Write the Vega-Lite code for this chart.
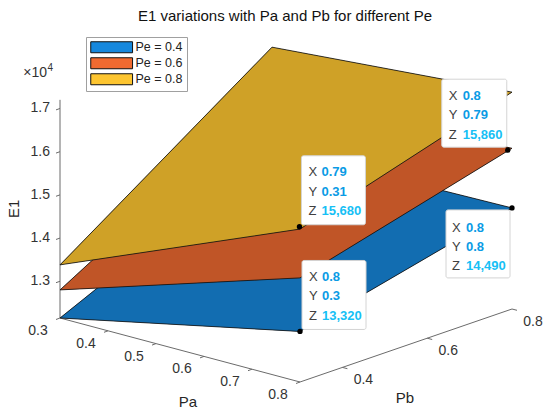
{
  "$schema": "https://vega.github.io/schema/vega-lite/v6.json",
  "width": 550,
  "height": 415,
  "padding": 0,
  "autosize": {"type": "none"},
  "background": "white",
  "config": {"view": {"stroke": null}, "font": "Liberation Sans"},
  "title": {"text": "E1 variations with Pa and Pb for different Pe", "anchor": "middle", "frame": "group", "baseline": "top", "offset": -7, "dx": 10, "dy": 17, "fontSize": 15, "fontWeight": "normal", "color": "#111111", "font": "Liberation Sans"},
  "data": {"values": [
    {"kind": "surf", "s": "Pe = 0.4", "k": 1, "Pa": 0.3, "Pb": 0.3, "E1": 12150},
    {"kind": "surf", "s": "Pe = 0.4", "k": 2, "Pa": 0.8, "Pb": 0.3, "E1": 13320},
    {"kind": "surf", "s": "Pe = 0.4", "k": 3, "Pa": 0.8, "Pb": 0.8, "E1": 14490},
    {"kind": "surf", "s": "Pe = 0.4", "k": 4, "Pa": 0.3, "Pb": 0.8, "E1": 14400},
    {"kind": "surf", "s": "Pe = 0.6", "k": 1, "Pa": 0.3, "Pb": 0.3, "E1": 12800},
    {"kind": "surf", "s": "Pe = 0.6", "k": 2, "Pa": 0.8, "Pb": 0.3, "E1": 14560},
    {"kind": "surf", "s": "Pe = 0.6", "k": 3, "Pa": 0.8, "Pb": 0.8, "E1": 15870},
    {"kind": "surf", "s": "Pe = 0.6", "k": 4, "Pa": 0.3, "Pb": 0.8, "E1": 15620},
    {"kind": "surf", "s": "Pe = 0.8", "k": 1, "Pa": 0.3, "Pb": 0.3, "E1": 13380},
    {"kind": "surf", "s": "Pe = 0.8", "k": 2, "Pa": 0.8, "Pb": 0.3, "E1": 15690},
    {"kind": "surf", "s": "Pe = 0.8", "k": 3, "Pa": 0.8, "Pb": 0.8, "E1": 17170},
    {"kind": "surf", "s": "Pe = 0.8", "k": 4, "Pa": 0.3, "Pb": 0.8, "E1": 16730},
    {"kind": "axis", "k": 1, "Pa": 0.3, "Pb": 0.3, "E1": 17200},
    {"kind": "axis", "k": 2, "Pa": 0.3, "Pb": 0.3, "E1": 12150},
    {"kind": "axis", "k": 3, "Pa": 0.8, "Pb": 0.3, "E1": 12150},
    {"kind": "axis", "k": 4, "Pa": 0.8, "Pb": 0.8, "E1": 12150},
    {"kind": "zt", "Pa": 0.3, "Pb": 0.3, "E1": 13000},
    {"kind": "zt", "Pa": 0.3, "Pb": 0.3, "E1": 14000},
    {"kind": "zt", "Pa": 0.3, "Pb": 0.3, "E1": 15000},
    {"kind": "zt", "Pa": 0.3, "Pb": 0.3, "E1": 16000},
    {"kind": "zt", "Pa": 0.3, "Pb": 0.3, "E1": 17000},
    {"kind": "pat", "Pa": 0.3, "Pb": 0.3, "E1": 12150},
    {"kind": "pat", "Pa": 0.4, "Pb": 0.3, "E1": 12150},
    {"kind": "pat", "Pa": 0.5, "Pb": 0.3, "E1": 12150},
    {"kind": "pat", "Pa": 0.6, "Pb": 0.3, "E1": 12150},
    {"kind": "pat", "Pa": 0.7, "Pb": 0.3, "E1": 12150},
    {"kind": "pat", "Pa": 0.8, "Pb": 0.3, "E1": 12150},
    {"kind": "pbt", "Pa": 0.8, "Pb": 0.4, "E1": 12150},
    {"kind": "pbt", "Pa": 0.8, "Pb": 0.6, "E1": 12150},
    {"kind": "pbt", "Pa": 0.8, "Pb": 0.8, "E1": 12150},
    {"kind": "exp", "Pa": 0.3, "Pb": 0.3, "E1": 17200},
    {"kind": "ttl", "name": "Pa", "Pa": 0.55, "Pb": 0.3, "E1": 12150},
    {"kind": "ttl", "name": "Pb", "Pa": 0.8, "Pb": 0.55, "E1": 12150},
    {"kind": "ttl", "name": "E1", "Pa": 0.3, "Pb": 0.3, "E1": 14675},
    {"kind": "tip", "Pa": 0.8, "Pb": 0.3, "E1": 13320},
    {"kind": "tip", "Pa": 0.79, "Pb": 0.31, "E1": 15680},
    {"kind": "tip", "Pa": 0.8, "Pb": 0.79, "E1": 15860},
    {"kind": "tip", "Pa": 0.8, "Pb": 0.8, "E1": 14490}
  ]},
  "transform": [
    {"calculate": "480*datum.Pa + 424*datum.Pb", "as": "u"},
    {"calculate": "146*datum.Pb - 128*datum.Pa + 0.0432*datum.E1", "as": "v"},
    {"calculate": "datum.E1/10000", "as": "zl"},
    {"calculate": "format(datum.Pa, '.2~f') + '|' + format(datum.Pb, '.2~f')", "as": "xy"}
  ],
  "encoding": {
    "x": {"field": "u", "type": "quantitative", "scale": {"domain": [211.2, 761.2], "nice": false, "zero": false}, "axis": null},
    "y": {"field": "v", "type": "quantitative", "scale": {"domain": [433.28, 848.28], "nice": false, "zero": false}, "axis": null}
  },
  "layer": [
    {"transform": [{"filter": "datum.kind === 'axis'"}], "mark": {"type": "line", "color": "#6b6b6b", "strokeWidth": 1}, "encoding": {"order": {"field": "k", "type": "quantitative"}}},
    {"transform": [{"filter": "datum.kind === 'zt'"}], "mark": {"type": "rule", "color": "#6b6b6b", "strokeWidth": 1, "x2Offset": -4, "y2Offset": 1.4}, "encoding": {"x2": {"field": "u"}, "y2": {"field": "v"}}},
    {"transform": [{"filter": "datum.kind === 'zt'"}], "mark": {"type": "text", "align": "right", "baseline": "middle", "dx": -10, "fontSize": 14, "color": "#333333"}, "encoding": {"text": {"field": "zl", "type": "quantitative", "format": ".1f"}}},
    {"transform": [{"filter": "datum.kind === 'pat'"}], "mark": {"type": "rule", "color": "#6b6b6b", "strokeWidth": 1, "x2Offset": -4, "y2Offset": 1.5}, "encoding": {"x2": {"field": "u"}, "y2": {"field": "v"}}},
    {"transform": [{"filter": "datum.kind === 'pat'"}], "mark": {"type": "text", "align": "center", "baseline": "middle", "dx": -22, "dy": 13, "fontSize": 14, "color": "#333333"}, "encoding": {"text": {"field": "Pa", "type": "quantitative", "format": ".1f"}}},
    {"transform": [{"filter": "datum.kind === 'pbt'"}], "mark": {"type": "rule", "color": "#6b6b6b", "strokeWidth": 1, "x2Offset": 5, "y2Offset": 1.3}, "encoding": {"x2": {"field": "u"}, "y2": {"field": "v"}}},
    {"transform": [{"filter": "datum.kind === 'pbt'"}], "mark": {"type": "text", "align": "center", "baseline": "middle", "dx": 21, "dy": 13, "fontSize": 14, "color": "#333333"}, "encoding": {"text": {"field": "Pb", "type": "quantitative", "format": ".1f"}}},
    {"transform": [{"filter": "datum.kind === 'exp'"}], "mark": {"type": "text", "align": "right", "baseline": "middle", "dx": -13, "dy": -27, "fontSize": 14, "color": "#333333"}, "encoding": {"text": {"value": "×10"}}},
    {"transform": [{"filter": "datum.kind === 'exp'"}], "mark": {"type": "text", "align": "left", "baseline": "middle", "dx": -12.5, "dy": -32, "fontSize": 10, "color": "#333333"}, "encoding": {"text": {"value": "4"}}},
    {"transform": [{"filter": "datum.kind === 'ttl' && datum.name === 'Pa'"}], "mark": {"type": "text", "align": "center", "baseline": "middle", "dx": 8, "dy": 52, "fontSize": 15, "color": "#262626"}, "encoding": {"text": {"field": "name"}}},
    {"transform": [{"filter": "datum.kind === 'ttl' && datum.name === 'Pb'"}], "mark": {"type": "text", "align": "center", "baseline": "middle", "dx": -1, "dy": 52.5, "fontSize": 15, "color": "#262626"}, "encoding": {"text": {"field": "name"}}},
    {"transform": [{"filter": "datum.kind === 'ttl' && datum.name === 'E1'"}], "mark": {"type": "text", "align": "center", "baseline": "middle", "angle": 270, "dy": -46, "fontSize": 15, "color": "#262626"}, "encoding": {"text": {"field": "name"}}},
    {"transform": [{"filter": "datum.kind === 'surf' && datum.s === 'Pe = 0.4'"}], "mark": {"type": "line", "filled": true, "color": "#000000", "interpolate": "linear-closed"}, "encoding": {"order": {"field": "k", "type": "quantitative"}}},
    {"transform": [{"filter": "datum.kind === 'surf' && datum.s === 'Pe = 0.4'"}], "mark": {"type": "line", "filled": true, "fillOpacity": 0.8, "stroke": "#111111", "strokeWidth": 0.8, "interpolate": "linear-closed"}, "encoding": {"order": {"field": "k", "type": "quantitative"}, "color": {"field": "s", "type": "nominal", "scale": {"domain": ["Pe = 0.4", "Pe = 0.6", "Pe = 0.8"], "range": ["#1688dd", "#f06a31", "#fdc530"]}, "legend": {"orient": "none", "legendX": 86, "legendY": 37, "title": null, "direction": "vertical", "symbolType": "M-1,-1H6.6V1H-1Z", "symbolSize": 121, "symbolStrokeColor": "#333333", "symbolStrokeWidth": 1, "symbolOpacity": 1, "symbolFillOpacity": 1, "labelFont": "Liberation Sans", "labelFontSize": 12.5, "labelColor": "#222222", "labelOffset": 33, "padding": 4, "rowPadding": 0, "strokeColor": "#a0a0a0", "fillColor": "white"}}}},
    {"transform": [{"filter": "datum.kind === 'surf' && datum.s === 'Pe = 0.6'"}], "mark": {"type": "line", "filled": true, "color": "#000000", "interpolate": "linear-closed"}, "encoding": {"order": {"field": "k", "type": "quantitative"}}},
    {"transform": [{"filter": "datum.kind === 'surf' && datum.s === 'Pe = 0.6'"}], "mark": {"type": "line", "filled": true, "fillOpacity": 0.8, "stroke": "#111111", "strokeWidth": 0.8, "interpolate": "linear-closed"}, "encoding": {"order": {"field": "k", "type": "quantitative"}, "color": {"field": "s", "type": "nominal"}}},
    {"transform": [{"filter": "datum.kind === 'surf' && datum.s === 'Pe = 0.8'"}], "mark": {"type": "line", "filled": true, "color": "#000000", "interpolate": "linear-closed"}, "encoding": {"order": {"field": "k", "type": "quantitative"}}},
    {"transform": [{"filter": "datum.kind === 'surf' && datum.s === 'Pe = 0.8'"}], "mark": {"type": "line", "filled": true, "fillOpacity": 0.82, "stroke": "#111111", "strokeWidth": 0.8, "interpolate": "linear-closed"}, "encoding": {"order": {"field": "k", "type": "quantitative"}, "color": {"field": "s", "type": "nominal"}}},
    {"transform": [{"filter": "datum.kind === 'tip' && datum.Pb < 0.5"}], "mark": {"type": "rect", "fill": "white", "stroke": "#d4d4d4", "strokeWidth": 1, "cornerRadius": 2, "xOffset": 2, "x2Offset": 66, "yOffset": -71, "y2Offset": -2}, "encoding": {"x2": {"field": "u"}, "y2": {"field": "v"}}},
    {"transform": [{"filter": "datum.kind === 'tip' && datum.Pb < 0.5"}], "mark": {"type": "text", "align": "left", "baseline": "alphabetic", "dx": 9, "dy": -50.5, "lineHeight": 19.5, "lineBreak": "|", "fontSize": 13, "color": "#404040"}, "encoding": {"text": {"value": "X|Y|Z"}}},
    {"transform": [{"filter": "datum.kind === 'tip' && datum.Pb < 0.5"}], "mark": {"type": "text", "align": "left", "baseline": "alphabetic", "dx": 22, "dy": -50.5, "lineHeight": 19.5, "lineBreak": "|", "fontSize": 13, "fontWeight": "bold", "color": "#0a9be5"}, "encoding": {"text": {"field": "xy"}}},
    {"transform": [{"filter": "datum.kind === 'tip' && datum.Pb < 0.5"}], "mark": {"type": "text", "align": "left", "baseline": "alphabetic", "dx": 22, "dy": -11.5, "fontSize": 13, "fontWeight": "bold", "color": "#16c0f5"}, "encoding": {"text": {"field": "E1", "type": "quantitative", "format": ","}}},
    {"transform": [{"filter": "datum.kind === 'tip' && datum.E1 > 15800"}], "mark": {"type": "rect", "fill": "white", "stroke": "#d4d4d4", "strokeWidth": 1, "cornerRadius": 2, "xOffset": -66, "x2Offset": -1, "yOffset": -71, "y2Offset": -3}, "encoding": {"x2": {"field": "u"}, "y2": {"field": "v"}}},
    {"transform": [{"filter": "datum.kind === 'tip' && datum.E1 > 15800"}], "mark": {"type": "text", "align": "left", "baseline": "alphabetic", "dx": -59, "dy": -50.5, "lineHeight": 19.5, "lineBreak": "|", "fontSize": 13, "color": "#404040"}, "encoding": {"text": {"value": "X|Y|Z"}}},
    {"transform": [{"filter": "datum.kind === 'tip' && datum.E1 > 15800"}], "mark": {"type": "text", "align": "left", "baseline": "alphabetic", "dx": -45, "dy": -50.5, "lineHeight": 19.5, "lineBreak": "|", "fontSize": 13, "fontWeight": "bold", "color": "#0a9be5"}, "encoding": {"text": {"field": "xy"}}},
    {"transform": [{"filter": "datum.kind === 'tip' && datum.E1 > 15800"}], "mark": {"type": "text", "align": "left", "baseline": "alphabetic", "dx": -45, "dy": -11.5, "fontSize": 13, "fontWeight": "bold", "color": "#16c0f5"}, "encoding": {"text": {"field": "E1", "type": "quantitative", "format": ","}}},
    {"transform": [{"filter": "datum.kind === 'tip' && datum.Pb > 0.5 && datum.E1 < 15000"}], "mark": {"type": "rect", "fill": "white", "stroke": "#d4d4d4", "strokeWidth": 1, "cornerRadius": 2, "xOffset": -66, "x2Offset": -2, "yOffset": 2, "y2Offset": 70}, "encoding": {"x2": {"field": "u"}, "y2": {"field": "v"}}},
    {"transform": [{"filter": "datum.kind === 'tip' && datum.Pb > 0.5 && datum.E1 < 15000"}], "mark": {"type": "text", "align": "left", "baseline": "alphabetic", "dx": -60, "dy": 23.6, "lineHeight": 19, "lineBreak": "|", "fontSize": 13, "color": "#404040"}, "encoding": {"text": {"value": "X|Y|Z"}}},
    {"transform": [{"filter": "datum.kind === 'tip' && datum.Pb > 0.5 && datum.E1 < 15000"}], "mark": {"type": "text", "align": "left", "baseline": "alphabetic", "dx": -46, "dy": 23.6, "lineHeight": 19, "lineBreak": "|", "fontSize": 13, "fontWeight": "bold", "color": "#0a9be5"}, "encoding": {"text": {"field": "xy"}}},
    {"transform": [{"filter": "datum.kind === 'tip' && datum.Pb > 0.5 && datum.E1 < 15000"}], "mark": {"type": "text", "align": "left", "baseline": "alphabetic", "dx": -46, "dy": 61.6, "fontSize": 13, "fontWeight": "bold", "color": "#16c0f5"}, "encoding": {"text": {"field": "E1", "type": "quantitative", "format": ","}}},
    {"transform": [{"filter": "datum.kind === 'tip'"}], "mark": {"type": "point", "filled": true, "color": "#000000", "opacity": 1, "size": 28}}
  ]
}
